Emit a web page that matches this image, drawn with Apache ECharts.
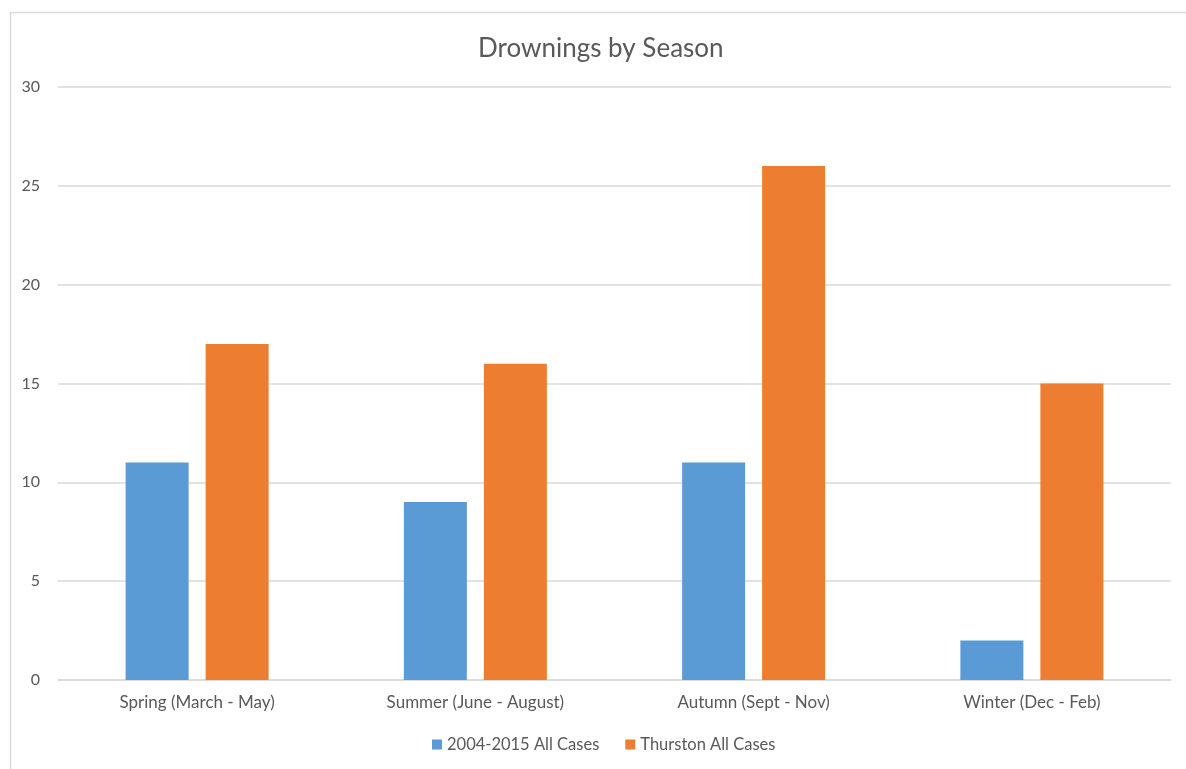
<!DOCTYPE html>
<html>
<head>
<meta charset="utf-8">
<script src="https://cdn.jsdelivr.net/npm/echarts@6/dist/echarts.min.js"></script>
<style>
html,body{margin:0;padding:0;background:#fff;}
#chart{width:1186px;height:769px;}
</style>
</head>
<body>
<div id="chart"></div>
<script>
const categories = ['Spring (March - May)', 'Summer (June - August)', 'Autumn (Sept - Nov)', 'Winter (Dec - Feb)'];
const seriesNames = ['2004-2015 All Cases', 'Thurston All Cases'];
const allCases = [11, 9, 11, 2];
const thurstonCases = [17, 16, 26, 15];
const yTicks = { min: 0, max: 30, interval: 5 };

const chart = echarts.init(document.getElementById('chart'));
const font = 'Lato, "Open Sans", sans-serif';
chart.setOption({
  animation: false,
  backgroundColor: '#fff',
  graphic: [{
    type: 'rect', left: 8, top: 10, silent: true,
    shape: { x: 0, y: 0, width: 1200, height: 800 },
    style: { fill: 'none', stroke: '#D9D9D9', lineWidth: 1.5 }
  }],
  title: {
    text: 'Drownings by Season', left: 473, top: 31,
    textStyle: { color: '#595959', fontSize: 26, fontWeight: 'normal', fontFamily: font }
  },
  legend: {
    bottom: 11, left: 427, itemWidth: 10, itemHeight: 10, itemGap: 26,
    icon: 'rect',
    textStyle: { color: '#595959', fontSize: 16.5, fontFamily: font },
    data: seriesNames
  },
  grid: { left: 58, right: 15, top: 87, bottom: 89, containLabel: false },
  xAxis: {
    type: 'category', data: categories,
    axisLine: { lineStyle: { color: '#D9D9D9', width: 1.5 } },
    axisTick: { show: false },
    axisLabel: { color: '#595959', fontSize: 17, fontFamily: font, margin: 14 }
  },
  yAxis: {
    type: 'value', min: yTicks.min, max: yTicks.max, interval: yTicks.interval,
    axisLine: { show: false }, axisTick: { show: false },
    splitLine: { lineStyle: { color: '#D9D9D9', width: 1.5 } },
    axisLabel: { color: '#595959', fontSize: 16, fontFamily: font, margin: 18 }
  },
  series: [
    { name: seriesNames[0], type: 'bar', data: allCases, barWidth: 63, barGap: '27%',
      itemStyle: { color: '#5B9BD5' } },
    { name: seriesNames[1], type: 'bar', data: thurstonCases, barWidth: 63,
      itemStyle: { color: '#ED7D31' } }
  ]
});
</script>
</body>
</html>
